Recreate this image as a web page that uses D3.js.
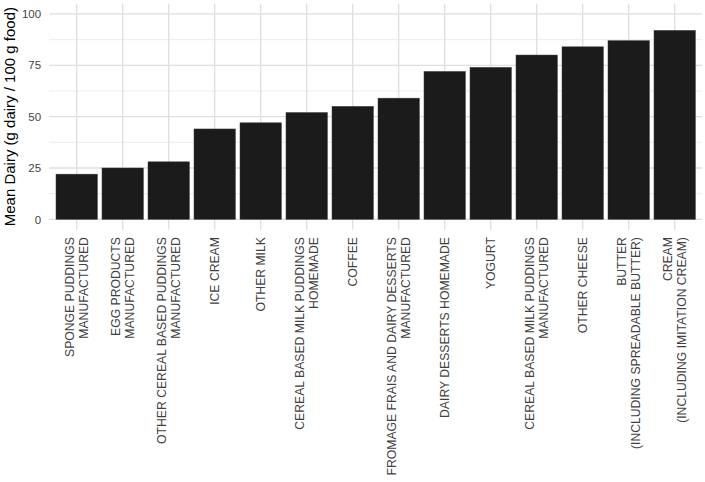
<!DOCTYPE html>
<html>
<head>
<meta charset="utf-8">
<script src="https://cdn.jsdelivr.net/npm/d3@7"></script>
<style>
  html, body { margin: 0; padding: 0; background: #ffffff; }
  svg { display: block; font-family: "Liberation Sans", Arial, Helvetica, sans-serif; }
</style>
</head>
<body>
<svg id="chart" width="705" height="482"></svg>
<script>
// ---- data ----
const categories = [
  "SPONGE PUDDINGS\nMANUFACTURED",
  "EGG PRODUCTS\nMANUFACTURED",
  "OTHER CEREAL BASED PUDDINGS\nMANUFACTURED",
  "ICE CREAM",
  "OTHER MILK",
  "CEREAL BASED MILK PUDDINGS\nHOMEMADE",
  "COFFEE",
  "FROMAGE FRAIS AND DAIRY DESSERTS\nMANUFACTURED",
  "DAIRY DESSERTS HOMEMADE",
  "YOGURT",
  "CEREAL BASED MILK PUDDINGS\nMANUFACTURED",
  "OTHER CHEESE",
  "BUTTER\n(INCLUDING SPREADABLE BUTTER)",
  "CREAM\n(INCLUDING IMITATION CREAM)"
];
const meanDairy = [22, 25, 28, 44, 47, 52, 55, 59, 72, 74, 80, 84, 87, 92];
const yTicks = [0, 25, 50, 75, 100];
const yMinorTicks = [12.5, 37.5, 62.5, 87.5];
const yTitle = "Mean Dairy (g dairy / 100 g food)";

// ---- layout ----
const panel = { left: 49.1, right: 702.3, top: 3.7, bottom: 229.6 };
const svg = d3.select("#chart");

const x = d3.scaleBand()
  .domain(categories)
  .range([panel.left, panel.right])
  .paddingInner(0.1)
  .paddingOuter(0.15);

const y = d3.scaleLinear()
  .domain([-5, 105])
  .range([panel.bottom, panel.top]);

const cx = d => x(d) + x.bandwidth() / 2;

// grid
const grid = svg.append("g");
grid.selectAll("line.minor").data(yMinorTicks).enter().append("line")
  .attr("x1", panel.left).attr("x2", panel.right)
  .attr("y1", d => y(d)).attr("y2", d => y(d))
  .attr("stroke", "#e6e6e6").attr("stroke-width", 0.8);
grid.selectAll("line.major").data(yTicks).enter().append("line")
  .attr("x1", panel.left).attr("x2", panel.right)
  .attr("y1", d => y(d)).attr("y2", d => y(d))
  .attr("stroke", "#dedede").attr("stroke-width", 1.3);
grid.selectAll("line.vert").data(categories).enter().append("line")
  .attr("x1", d => cx(d)).attr("x2", d => cx(d))
  .attr("y1", panel.top).attr("y2", panel.bottom)
  .attr("stroke", "#dedede").attr("stroke-width", 1.3);

// bars
svg.append("g").selectAll("rect").data(categories).enter().append("rect")
  .attr("x", d => x(d))
  .attr("width", x.bandwidth())
  .attr("y", (d, i) => y(meanDairy[i]))
  .attr("height", (d, i) => y(0) - y(meanDairy[i]))
  .attr("fill", "#1b1b1b")
  .attr("stroke", "#3a3a3a")
  .attr("stroke-width", 0.5);

// y axis labels
const yAxis = d3.axisLeft(y).tickValues(yTicks).tickSize(0).tickPadding(0);
const ya = svg.append("g").attr("transform", `translate(${panel.left - 8},0)`).call(yAxis);
ya.select(".domain").remove();
ya.selectAll("text")
  .attr("fill", "#444444")
  .style("font-size", "11.5px")
  .style("font-family", "'Liberation Sans', Arial, sans-serif");

// x axis labels
const lineH = 13.3;
const xl = svg.append("g");
categories.forEach(cat => {
  const lines = cat.split("\n");
  const t = xl.append("text")
    .attr("transform", `translate(${cx(cat)},${panel.bottom + 7.5}) rotate(-90)`)
    .attr("text-anchor", "end")
    .attr("fill", "#404040")
    .style("font-size", "12.2px");
  lines.forEach((ln, i) => {
    t.append("tspan")
      .attr("x", 0)
      .attr("y", (i - (lines.length - 1) / 2) * lineH)
      .attr("dy", "0.36em")
      .text(ln);
  });
});

// y title
svg.append("text")
  .attr("transform", `translate(15,${(panel.top + panel.bottom) / 2}) rotate(-90)`)
  .attr("text-anchor", "middle")
  .attr("fill", "#000000")
  .style("font-size", "15px")
  .text(yTitle);
</script>
</body>
</html>
